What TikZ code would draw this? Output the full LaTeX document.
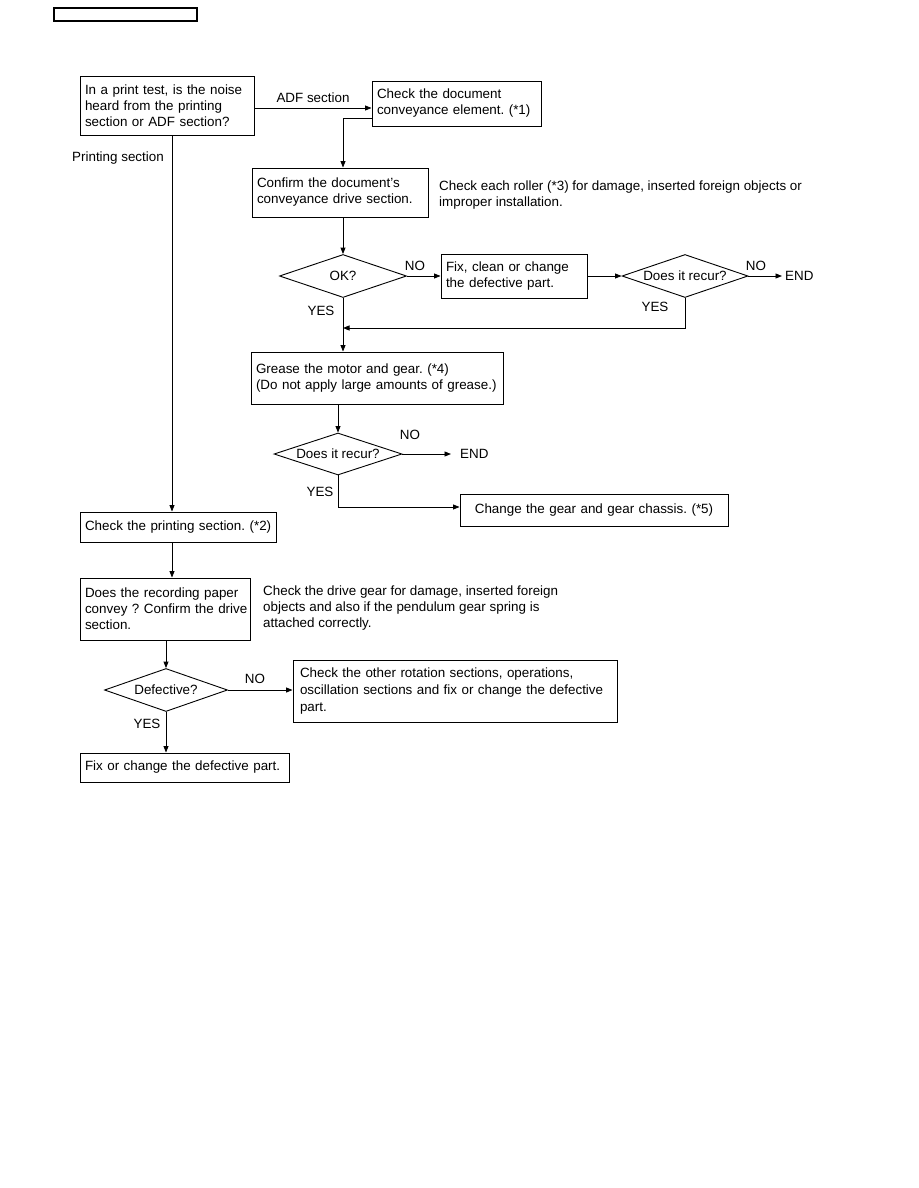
\documentclass[tikz,border=0pt]{standalone}
\usepackage{fontspec}
\setmainfont{Liberation Sans}
\usetikzlibrary{shapes.geometric,arrows.meta}
\frenchspacing
\begin{document}
\begin{tikzpicture}[x=1pt,y=-1pt,
  every node/.style={font=\fontsize{13.4}{16}\selectfont},
  box/.style={draw, line width=0.9pt, inner xsep=5pt, inner ysep=0pt, align=left},
  dia/.style={draw, diamond, line width=0.9pt, inner sep=0pt},
  lbl/.style={inner sep=0pt},
  arr/.style={line width=0.9pt, -{Triangle[length=6.5pt,width=5pt]}},
  ln/.style={line width=0.9pt}]
\useasboundingbox (0,0) rectangle (918,1188);

% header box
\node[draw, line width=1.5pt, minimum width=143pt, minimum height=13pt, inner sep=0pt] (hdr) at (125.5,14.5) {};

% boxes
\node[box, text width=164pt, minimum height=59pt] (A) at (167,105.5) {\mbox{In a print test, is the noise}\\heard from the printing\\section or ADF section?};
\node[box, text width=159pt, minimum height=45pt] (B) at (456.5,103.5) {Check the document\\\mbox{conveyance element. (*1)}};
\node[box, text width=166pt, minimum height=49pt] (C) at (340,192.5) {Confirm the document's\\\mbox{conveyance drive section.}};
\node[box, text width=136pt, minimum height=44pt] (Fx) at (514,276) {Fix, clean or change\\the defective part.};
\node[box, text width=242pt, minimum height=52pt] (E) at (377,378) {Grease the motor and gear. (*4)\\\mbox{(Do not apply large amounts of grease.)}};
\node[box, align=center, text width=258pt, minimum height=32pt] (F) at (594,510) {Change the gear and gear chassis. (*5)};
\node[box, text width=186pt, minimum height=30pt] (D) at (178,527) {\mbox{Check the printing section. (*2)}};
\node[box, text width=160pt, minimum height=62pt] (G) at (165,609) {\mbox{Does the recording paper}\\\mbox{convey ? Confirm the drive}\\section.};
\node[box, inner xsep=7pt, text width=310pt, minimum height=62pt, font=\fontsize{13.4}{17}\selectfont] (H) at (455,691) {\mbox{Check the other rotation sections, operations,}\\\mbox{oscillation sections and fix or change the defective}\\part.};
\node[box, text width=199pt, minimum height=29pt] (I) at (184.5,767.5) {\mbox{Fix or change the defective part.}};

% diamonds
\node[dia, minimum width=127pt, minimum height=43pt] (OK) at (343,276) {};
\node[lbl] at (OK) {OK?};
\node[dia, minimum width=126pt, minimum height=43pt] (R1) at (685,276) {};
\node[lbl] at (R1) {Does it recur?};
\node[dia, minimum width=128pt, minimum height=42pt] (R2) at (338,454) {};
\node[lbl] at (R2) {Does it recur?};
\node[dia, minimum width=123pt, minimum height=43pt] (Df) at (166,690) {};
\node[lbl] at (Df) {Defective?};

% end labels
\node[lbl, anchor=west] (end1) at (785,276) {END};
\node[lbl, anchor=west] (end2) at (460,454) {END};

% annotations
\node[lbl, anchor=base west, align=left] (n1) at (439,206) {Check each roller (*3) for damage, inserted foreign objects or\\improper installation.};
\node[lbl, anchor=base west, align=left] (n2) at (263,627) {Check the drive gear for damage, inserted foreign\\objects and also if the pendulum gear spring is\\attached correctly.};

% connectors
\coordinate (pA) at (172,0);
\coordinate (m1) at (343,328);
\draw[arr] ([yshift=-2.5pt]A.east) -- ([yshift=-2.5pt]A.east -| B.west)
  node[lbl, midway, above=5pt] {ADF section};
\draw[arr] ([yshift=-14.5pt]B.west) -| (C.north -| OK.north);
\draw[arr] (A.south -| pA) -- (D.north -| pA);
\node[lbl] (ps) at (118,158) {Printing section};
\draw[arr] (C.south -| OK.north) -- (OK.north);
\draw[arr] (OK.east) -- (Fx.west);
\node[lbl] at (415,266) {NO};
\draw[arr] (Fx.east) -- (R1.west);
\draw[arr] (R1.east) -- ([xshift=-3pt]end1.west);
\node[lbl] at (756,266) {NO};
\draw[arr] (R1.south) |- (m1);
\node[lbl] at (655,307) {YES};
\draw[arr] (OK.south) -- (OK.south |- E.north);
\node[lbl] at (321,311) {YES};
\draw[arr] (E.south -| R2.north) -- (R2.north);
\draw[arr] (R2.east) -- ([xshift=-9pt]end2.west);
\node[lbl] at (410,435) {NO};
\draw[arr] (R2.south) |- ([yshift=3pt]F.west);
\node[lbl] at (320,492) {YES};
\draw[arr] (D.south -| pA) -- (G.north -| pA);
\draw[arr] (G.south -| Df.north) -- (Df.north);
\draw[arr] (Df.east) -- (Df.east -| H.west);
\node[lbl] at (255,679) {NO};
\draw[arr] (Df.south) -- (Df.south |- I.north);
\node[lbl] at (147,724) {YES};
\end{tikzpicture}
\end{document}
